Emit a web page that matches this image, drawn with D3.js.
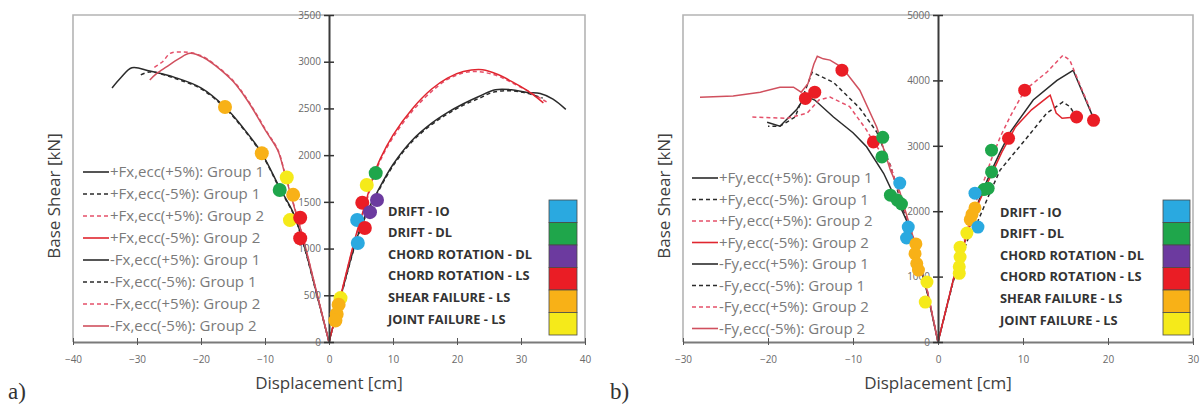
<!DOCTYPE html>
<html><head><meta charset="utf-8">
<script src="https://cdn.jsdelivr.net/npm/d3@7"></script>
<style>body{margin:0;background:#fff}svg{display:block}</style>
</head><body>
<svg id="c" width="1203" height="406"></svg>
<script>
// ---------- DATA ----------
const xTicksA = [-40,-30,-20,-10,0,10,20,30,40];
const yTicksA = [0,500,1000,1500,2000,2500,3000,3500];
const xTicksB = [-30,-20,-10,0,10,20,30];
const yTicksB = [0,1000,2000,3000,4000,5000];

const legendA = ["+Fx,ecc(+5%): Group 1","+Fx,ecc(-5%): Group 1","+Fx,ecc(+5%): Group 2","+Fx,ecc(-5%): Group 2",
                 "-Fx,ecc(+5%): Group 1","-Fx,ecc(-5%): Group 1","-Fx,ecc(+5%): Group 2","-Fx,ecc(-5%): Group 2"];
const legendB = ["+Fy,ecc(+5%): Group 1","+Fy,ecc(-5%): Group 1","+Fy,ecc(+5%): Group 2","+Fy,ecc(-5%): Group 2",
                 "-Fy,ecc(+5%): Group 1","-Fy,ecc(-5%): Group 1","-Fy,ecc(+5%): Group 2","-Fy,ecc(-5%): Group 2"];
const limitStates = ["DRIFT - IO","DRIFT - DL","CHORD ROTATION - DL","CHORD ROTATION - LS","SHEAR FAILURE - LS","JOINT FAILURE - LS"];
const limitColors = ["#2aa9e0","#1fa64b","#6c3a9f","#ea1d25","#f8b117","#f5ea1a"];

// Panel a curves [displacement cm, base shear kN]
const posFx_G1_p5 = [[0,0],[2,530],[4,1030],[5.5,1330],[7.5,1600],[10,1900],[13,2160],[16,2340],[18.5,2455],[21,2550],[23.5,2630],[26,2700],[28.5,2700],[31,2670],[33,2660],[35,2600],[37,2490]];
const posFx_G1_m5 = [[0,0],[2,520],[4,1020],[5.5,1310],[7.5,1585],[10,1885],[13,2145],[16,2325],[18.5,2440],[21,2535],[23.5,2610],[25.5,2670],[28,2690],[30.5,2670],[33.4,2610]];
const posFx_G2_p5 = [[0,0],[2,540],[4,1080],[5.5,1420],[7,1760],[8,1940],[10,2190],[13,2470],[16,2680],[18.5,2810],[21,2880],[23,2895],[25,2875],[27,2830],[29,2760],[31,2690],[33,2610],[34,2570]];
const posFx_G2_m5 = [[0,0],[2,545],[4,1090],[5.5,1440],[7,1790],[8,1960],[10,2215],[13,2495],[16,2705],[18.5,2825],[21,2895],[24,2915],[26.5,2860],[29,2770],[31,2690],[33.5,2560]];
const negFx_G1_p5 = [[0,0],[-2,540],[-4,1060],[-5.5,1370],[-7.7,1650],[-10.5,2020],[-13.5,2300],[-16.25,2515],[-20,2720],[-24,2830],[-28,2900],[-30.8,2935],[-32.5,2830],[-33.9,2718]];
const negFx_G1_m5 = [[0,0],[-2,530],[-4,1050],[-5.5,1360],[-7.7,1640],[-10.5,2010],[-13.5,2290],[-16.25,2505],[-20,2710],[-24,2820],[-28,2890],[-29.5,2855]];
const negFx_G2_p5 = [[0,0],[-2,550],[-4,1100],[-5.5,1470],[-6.9,1810],[-8,2060],[-9.7,2250],[-12.8,2600],[-15,2800],[-17.5,2950],[-19.5,3050],[-21.5,3095],[-23,3105],[-24.8,3090],[-26,3000],[-27.5,2930]];
const negFx_G2_m5 = [[0,0],[-2,550],[-4,1100],[-5.5,1460],[-6.9,1800],[-8,2050],[-9.7,2240],[-12.8,2590],[-15,2790],[-17.5,2945],[-19.5,3040],[-21.7,3090],[-23.5,3030],[-25.4,2945],[-27,2870],[-28,2805]];

// Panel b curves
const posFy_G1_p5 = [[0,0],[1.8,950],[2.6,1300],[3.4,1650],[4.35,2000],[5.2,2300],[6.3,2620],[7.3,2900],[8.5,3210],[11.2,3700],[14,4000],[15.9,4155],[18.3,3420]];
const posFy_G1_m5 = [[0,0],[1.8,930],[2.6,1250],[3.6,1600],[4.7,1850],[6,2250],[7.3,2628],[10.5,3130],[12.8,3500],[14.7,3670],[15.5,3600],[16.3,3440]];
const posFy_G2_p5 = [[0,0],[1.8,960],[2.6,1320],[3.4,1700],[4.35,2100],[5.5,2500],[6.3,2800],[7.3,3130],[8.5,3450],[10.2,3850],[12.8,4125],[14.7,4385],[15.5,4310],[17.9,3560]];
const posFy_G2_m5 = [[0,0],[1.8,950],[2.6,1280],[3.4,1640],[4.35,2000],[5.9,2450],[7.5,2900],[9.1,3285],[11,3550],[12.9,3745],[13.2,3775],[13.9,3500],[14.6,3420],[16.3,3440]];
const negFy_G1_p5 = [[0,0],[-1.2,720],[-2,1100],[-2.8,1500],[-3.5,1800],[-4.2,2000],[-5.3,2276],[-6.4,2580],[-8.4,2985],[-10,3200],[-12.3,3440],[-14.5,3700],[-15.6,3760],[-16.6,3560],[-18.6,3300],[-20.1,3360]];
const negFy_G1_m5 = [[0,0],[-1.2,730],[-2,1120],[-2.8,1520],[-3.6,1830],[-4.5,2200],[-5.6,2700],[-7.2,3210],[-9.2,3575],[-12.3,3970],[-14.8,4125],[-16.8,3440],[-18.6,3300],[-20,3300]];
const negFy_G2_p5 = [[0,0],[-1.2,760],[-2,1150],[-2.8,1560],[-3.6,1880],[-4.5,2250],[-5.6,2700],[-7.6,3060],[-8.4,3240],[-10.4,3600],[-12.7,3745],[-14,3700],[-15.4,3500],[-17.8,3420],[-21.9,3440]];
const negFy_G2_m5 = [[0,0],[-1.2,750],[-2,1140],[-2.8,1550],[-3.6,1900],[-4.5,2300],[-5.6,2628],[-7.2,3285],[-9.2,3850],[-11.3,4200],[-12.7,4310],[-13.5,4330],[-14.2,4370],[-14.6,4250],[-15.3,3950],[-16.1,3820],[-17,3896],[-18.6,3896],[-20.9,3820],[-24.1,3760],[-28,3743]];

// Limit-state markers [displacement, base shear, limit state index]
const markersA = [
  [-16.25,2515,4],[-10.5,2020,4],[-6.1,1305,5],[-6.6,1760,5],[-7.7,1627,1],[-5.6,1575,4],[-4.5,1330,3],[-4.5,1110,3],
  [7.3,1808,1],[5.9,1680,5],[7.5,1520,2],[5.2,1490,3],[6.4,1390,2],[4.4,1306,0],[5.6,1220,3],[4.5,1060,0],
  [1.8,470,5],[1.5,400,4],[1.2,300,4],[1.0,230,4]
];
const markersB = [
  [-15.6,3725,3],[-14.5,3820,3],[-11.3,4156,3],[-7.6,3060,3],[-6.5,3130,1],[-6.6,2830,1],[-4.5,2430,0],
  [-5.6,2245,1],[-4.8,2170,1],[-4.3,2110,1],[-3.5,1757,0],[-3.7,1590,0],
  [-2.6,1500,4],[-2.7,1350,4],[-2.5,1200,4],[-2.3,1100,4],[-1.3,917,5],[-1.5,610,5],
  [10.2,3850,3],[8.3,3115,3],[16.3,3440,3],[18.3,3390,3],[6.3,2933,1],[6.3,2600,1],[5.9,2350,1],[5.4,2330,1],
  [4.35,2276,0],[4.35,2050,4],[4.0,1950,4],[3.8,1870,4],[4.7,1757,0],[3.4,1665,5],
  [2.6,1450,5],[2.6,1300,5],[2.5,1150,5],[2.5,1050,5]
];

// line styles for the 8 legend entries
const lineStyles = [
  {c:"#2b2b2b",d:null},{c:"#2b2b2b",d:"4,3"},{c:"#e5506a",d:"4,3"},{c:"#e0262f",d:null},
  {c:"#2b2b2b",d:null},{c:"#2b2b2b",d:"4,3"},{c:"#e5506a",d:"4,3"},{c:"#d0505e",d:null}
];

// ---------- DRAW ----------
const svg = d3.select("#c");
const FONT = "'Open Sans', 'DejaVu Sans', sans-serif";

function panel(cfg){
  const x = d3.scaleLinear().domain(cfg.xDomain).range([cfg.x0, cfg.x1]);
  const y = d3.scaleLinear().domain(cfg.yDomain).range([342, 15]);
  const g = svg.append("g");

  // frame
  g.append("path").attr("d", `M${cfg.x0},342V15H${cfg.x1}V342`)
    .attr("fill","none").attr("stroke","#b4b4b4").attr("stroke-width",1.6);

  // curves
  const line = d3.line().x(d=>x(d[0])).y(d=>y(d[1])).curve(cfg.curve);
  cfg.curves.forEach((c,i)=>{
    const st = lineStyles[i];
    g.append("path").attr("d", line(c)).attr("fill","none")
      .attr("stroke", st.c).attr("stroke-width",1.5)
      .attr("stroke-dasharray", st.d);
  });

  // x axis
  const xa = g.append("g").attr("transform","translate(0,342)")
    .call(d3.axisBottom(x).tickValues(cfg.xTicks).tickSizeInner(-4).tickSizeOuter(0).tickPadding(14).tickFormat(d3.format("d")));
  xa.select(".domain").attr("stroke","#7a7a7a").attr("stroke-width",2);
  xa.selectAll(".tick line").attr("stroke","#555").attr("y1",3);
  xa.selectAll("text").attr("fill","#6a6a6a").style("font-family",FONT).style("font-size","10px");

  // y axis at x=0
  const ya = g.append("g").attr("transform",`translate(${x(0)},0)`)
    .call(d3.axisLeft(y).tickValues(cfg.yTicks).tickSizeInner(5).tickSizeOuter(0).tickPadding(3).tickFormat(d3.format("d")));
  ya.select(".domain").attr("stroke","#3a3a3a").attr("stroke-width",2);
  ya.selectAll(".tick line").attr("stroke","#333").attr("x2",-5).attr("x1",5).attr("stroke-width",1.5);
  ya.selectAll("text").attr("fill","#6a6a6a").style("font-family",FONT).style("font-size","10px");

  // markers
  g.append("g").selectAll("circle").data(cfg.markers).join("circle")
    .attr("cx",d=>x(d[0])).attr("cy",d=>y(d[1])).attr("r",cfg.r)
    .attr("fill",d=>limitColors[d[2]]);

  // line legend
  cfg.legend.forEach((t,i)=>{
    const yy = cfg.legY + i*cfg.legDy;
    const st = lineStyles[i];
    g.append("line").attr("x1",cfg.legX).attr("x2",cfg.legX+26).attr("y1",yy).attr("y2",yy)
      .attr("stroke",st.c).attr("stroke-width",1.6).attr("stroke-dasharray",st.d);
    g.append("text").attr("x",cfg.legX+27).attr("y",yy+5).text(t)
      .attr("fill","#7a7a7a").style("font-family",FONT).style("font-size","15px");
  });

  // limit state legend
  limitStates.forEach((t,i)=>{
    g.append("text").attr("x",cfg.lsX).attr("y",cfg.lsY + i*21.6 + 4.5).text(t)
      .attr("fill","#333").style("font-family",FONT).style("font-size","12.8px").style("font-weight","bold");
    g.append("rect").attr("x",cfg.swX).attr("y",200 + i*22.5).attr("width",cfg.swW).attr("height",22.5)
      .attr("fill",limitColors[i]).attr("stroke","#4a4a4a").attr("stroke-width",0.8);
  });

  // axis titles
  g.append("text").attr("x",x(0)).attr("y",389).attr("text-anchor","middle").text("Displacement [cm]")
    .attr("fill","#404040").style("font-family",FONT).style("font-size","17px");
  g.append("text").attr("transform",`translate(${cfg.titleYx},196) rotate(-90)`).attr("text-anchor","middle")
    .text("Base Shear [kN]").attr("fill","#404040").style("font-family",FONT).style("font-size","17px");
  g.append("text").attr("x",cfg.tagX).attr("y",399).text(cfg.tag)
    .attr("fill","#333").style("font-family","'Liberation Serif','DejaVu Serif',serif").style("font-size","23px");
}

panel({
  xDomain:[-40,40], yDomain:[0,3500], x0:73, x1:585, xTicks:xTicksA, yTicks:yTicksA,
  curves:[posFx_G1_p5,posFx_G1_m5,posFx_G2_p5,posFx_G2_m5,negFx_G1_p5,negFx_G1_m5,negFx_G2_p5,negFx_G2_m5],
  curve:d3.curveCatmullRom.alpha(0.5), markers:markersA, r:7,
  legend:legendA, legX:83, legY:172, legDy:22,
  lsX:388, lsY:211, swX:549, swW:28, titleYx:60, tag:"a)", tagX:8
});
panel({
  xDomain:[-30,30], yDomain:[0,5000], x0:683, x1:1193, xTicks:xTicksB, yTicks:yTicksB,
  curve:d3.curveLinear, markers:markersB, r:6.5,
  curves:[posFy_G1_p5,posFy_G1_m5,posFy_G2_p5,posFy_G2_m5,negFy_G1_p5,negFy_G1_m5,negFy_G2_p5,negFy_G2_m5],
  legend:legendB, legX:692, legY:178, legDy:21.5,
  lsX:1000, lsY:212, swX:1163, swW:27, titleYx:670, tag:"b)", tagX:610
});
</script></body></html>
